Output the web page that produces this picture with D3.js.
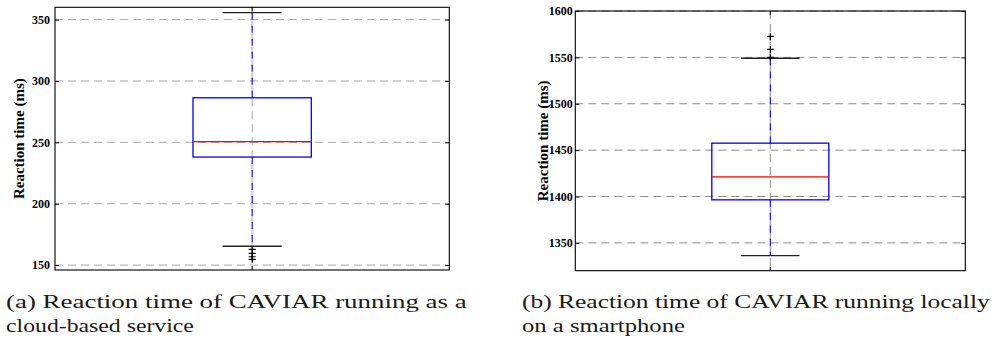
<!DOCTYPE html>
<html>
<head>
<meta charset="utf-8">
<script src="https://cdn.jsdelivr.net/npm/d3@7"></script>
<style>
  html, body { margin: 0; padding: 0; background: #fff; }
  svg { display: block; }
  .serif { font-family: "Liberation Serif", "Times New Roman", serif; }
</style>
</head>
<body>
<svg id="chart" width="995" height="338"></svg>
<script>
// ---------- data ----------
const yLabel = "Reaction time (ms)";

// panel (a): cloud-based service
const ticksA = [150, 200, 250, 300, 350];
const domainA = [146, 360];
// whisker low, q1, median, q3, whisker high
const statsA = [165.4, 238, 250.5, 286.3, 355.7];
const outliersA = [162.8, 159.6, 156.8, 154.7];
const captionA = ["(a) Reaction time of CAVIAR running as a", "cloud-based service"];

// panel (b): locally on a smartphone
const ticksB = [1350, 1400, 1450, 1500, 1550, 1600];
const domainB = [1320, 1600];
const statsB = [1336.3, 1396.4, 1421.2, 1457.5, 1549];
const outliersB = [1550, 1558.6, 1572.6];
const captionB = ["(b) Reaction time of CAVIAR running locally", "on a smartphone"];

// ---------- layout ----------
const panels = [
  { ticks: ticksA, domain: domainA, stats: statsA, outliers: outliersA, caption: captionA,
    x0: 55, x1: 449.3, y0: 7.3, y1: 270, labelX: 18.5, pad: 5, gridColor: "#a9a9a9",
    capX: 6, capW: [461, 188] },
  { ticks: ticksB, domain: domainB, stats: statsB, outliers: outliersB, caption: captionB,
    x0: 575.3, x1: 965.3, y0: 11, y1: 270.7, labelX: 542.5, pad: 2.5, gridColor: "#8c8c8c",
    capX: 522, capW: [468, 163] }
];

const svg = d3.select("#chart");

panels.forEach(p => {
  const x = d3.scaleLinear().domain([0.5, 1.5]).range([p.x0, p.x1]);
  const y = d3.scaleLinear().domain(p.domain).range([p.y1, p.y0]);
  const g = svg.append("g");
  const [wLo, q1, med, q3, wHi] = p.stats;

  // horizontal grid
  g.append("g").selectAll("line").data(p.ticks).join("line")
    .attr("x1", p.x0).attr("x2", p.x1)
    .attr("y1", d => y(d)).attr("y2", d => y(d))
    .attr("stroke", p.gridColor).attr("stroke-width", 1)
    .attr("stroke-dasharray", "8,5");
  // vertical grid at x = 1
  g.append("line")
    .attr("x1", x(1)).attr("x2", x(1)).attr("y1", p.y0).attr("y2", p.y1)
    .attr("stroke", p.gridColor).attr("stroke-width", 1)
    .attr("stroke-dasharray", "8,5");

  // whiskers (blue dashed)
  [[q3, wHi], [q1, wLo]].forEach(([a, b]) => {
    g.append("line")
      .attr("x1", x(1)).attr("x2", x(1)).attr("y1", y(a)).attr("y2", y(b))
      .attr("stroke", "#0000ff").attr("stroke-width", 1.1)
      .attr("stroke-dasharray", "7,6");
  });
  // caps
  [wLo, wHi].forEach(v => {
    g.append("line")
      .attr("x1", x(0.925)).attr("x2", x(1.075)).attr("y1", y(v)).attr("y2", y(v))
      .attr("stroke", "#222").attr("stroke-width", 1.4);
  });
  // box
  g.append("rect")
    .attr("x", x(0.85)).attr("width", x(1.15) - x(0.85))
    .attr("y", y(q3)).attr("height", y(q1) - y(q3))
    .attr("fill", "none").attr("stroke", "#0000ff").attr("stroke-width", 1.3);
  // median
  g.append("line")
    .attr("x1", x(0.85)).attr("x2", x(1.15)).attr("y1", y(med)).attr("y2", y(med))
    .attr("stroke", "#ff0000").attr("stroke-width", 1.2);
  // outliers (+)
  g.append("g").selectAll("path").data(p.outliers).join("path")
    .attr("d", d => `M${x(1) - 3.5},${y(d)}h7M${x(1)},${y(d) - 3.5}v7`)
    .attr("stroke", "#000").attr("stroke-width", 1.2).attr("fill", "none");

  // axes (inward ticks)
  const left = g.append("g").attr("transform", `translate(${p.x0},0)`)
    .call(d3.axisLeft(y).tickValues(p.ticks).tickSize(-4).tickPadding(p.pad).tickFormat(d3.format("d")));
  const right = g.append("g").attr("transform", `translate(${p.x1},0)`)
    .call(d3.axisRight(y).tickValues(p.ticks).tickSize(-4).tickFormat(""));
  [left, right].forEach(a => {
    a.select(".domain").remove();
    a.selectAll("line").attr("stroke", "#000");
  });
  left.attr("font-family", null).attr("font-size", null);
  left.selectAll("text")
    .attr("class", "serif").attr("font-weight", "bold")
    .attr("font-size", "12px").attr("fill", "#000");
  // x ticks at top and bottom
  g.append("line").attr("x1", x(1)).attr("x2", x(1)).attr("y1", p.y0).attr("y2", p.y0 + 4)
    .attr("stroke", "#000");
  g.append("line").attr("x1", x(1)).attr("x2", x(1)).attr("y1", p.y1).attr("y2", p.y1 - 4)
    .attr("stroke", "#000");

  // frame
  g.append("rect")
    .attr("x", p.x0).attr("y", p.y0).attr("width", p.x1 - p.x0).attr("height", p.y1 - p.y0)
    .attr("fill", "none").attr("stroke", "#000").attr("stroke-width", 1.1);

  // y label
  g.append("text")
    .attr("class", "serif")
    .attr("transform", `translate(${p.labelX},${(p.y0 + p.y1) / 2}) rotate(-90)`)
    .attr("text-anchor", "middle").attr("dy", "0.35em")
    .attr("font-weight", "bold").attr("font-size", "15px")
    .text(yLabel);

  // caption (serif, horizontally scaled to the reference line widths)
  p.caption.forEach((line, i) => {
    const t = svg.append("text")
      .attr("class", "serif")
      .attr("x", 0).attr("y", 0)
      .attr("font-size", "18px").attr("fill", "#1a1a1a")
      .text(line);
    const w = t.node().getComputedTextLength();
    const sx = p.capW[i] / w;
    t.attr("transform", `translate(${p.capX},${307.5 + i * 24}) scale(${sx},1)`);
  });
});
</script>
</body>
</html>
